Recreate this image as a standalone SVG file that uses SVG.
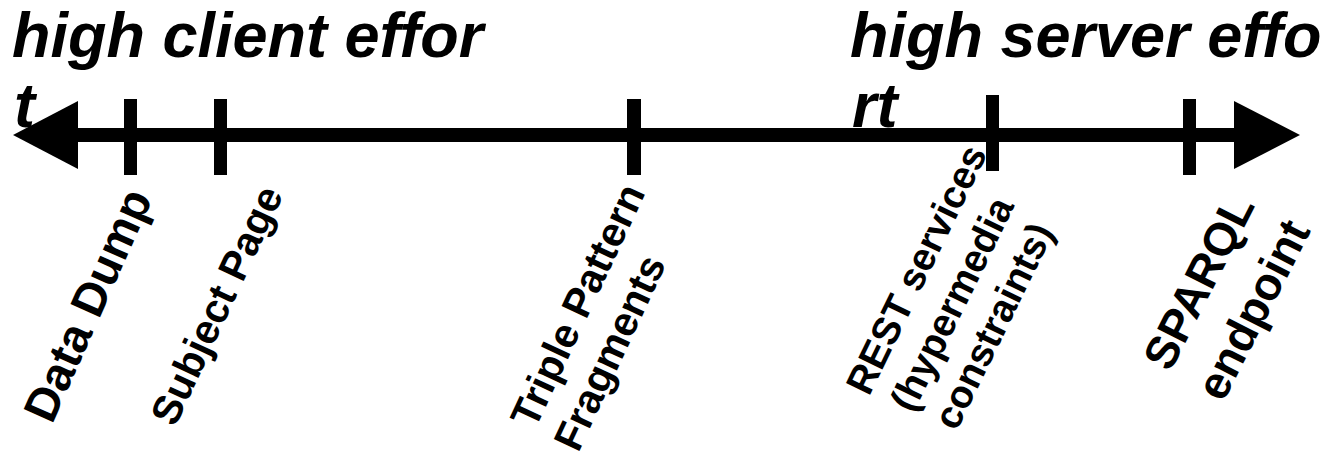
<svg xmlns="http://www.w3.org/2000/svg" width="1341" height="459" viewBox="0 0 1341 459">
<style>
.title{font-family:"Liberation Sans",Arial,sans-serif;font-weight:bold;font-style:italic;font-size:63px;fill:#000}
.lbl{font-family:"Liberation Sans",Arial,sans-serif;font-weight:bold;fill:#000}
.tick{fill:#000}
</style>
<rect width="1341" height="459" fill="#fff"/>
<g id="title-client">
<text class="title" x="12" y="57">high client effor</text>
<text class="title" x="14" y="127">t</text>
</g>
<g id="title-server">
<text class="title" x="850" y="57">high server effo</text>
<text class="title" x="852" y="127">rt</text>
</g>
<g id="node-datadump">
<text class="lbl" font-size="47" transform="translate(52,425) rotate(-66)">Data Dump</text></g>
<g id="node-subject">
<text class="lbl" font-size="41" transform="translate(175,428) rotate(-65)">Subject Page</text></g>
<g id="node-tpf">
<text class="lbl" font-size="41" transform="translate(535,430) rotate(-65)"><tspan x="0" y="0">Triple Pattern</tspan><tspan x="-3" y="49">Fragments</tspan></text></g>
<g id="node-rest">
<text class="lbl" font-size="39" transform="translate(869,397) rotate(-64)"><tspan x="0" y="0">REST services</tspan><tspan x="4" y="47">(hypermedia</tspan><tspan x="7" y="94">constraints)</tspan></text></g>
<g id="node-sparql">
<text class="lbl" font-size="46" transform="translate(1170,373) rotate(-63)"><tspan x="0" y="0">SPARQL</tspan><tspan x="-3" y="61">endpoint</tspan></text></g>
<g id="connectors">
<line x1="70" y1="135" x2="1240" y2="135" stroke="#000" stroke-width="14"/>
<polygon points="13,135 78,101 78,169" fill="#000"/>
<polygon points="1300,135 1234,101 1234,169" fill="#000"/>
<rect class="tick" x="124" y="99" width="13" height="76"/>
<rect class="tick" x="214" y="99" width="13" height="76"/>
<rect class="tick" x="627" y="99" width="14" height="76"/>
<rect class="tick" x="986" y="95" width="13" height="76"/>
<rect class="tick" x="1183" y="99" width="13" height="76"/>
</g>
</svg>
